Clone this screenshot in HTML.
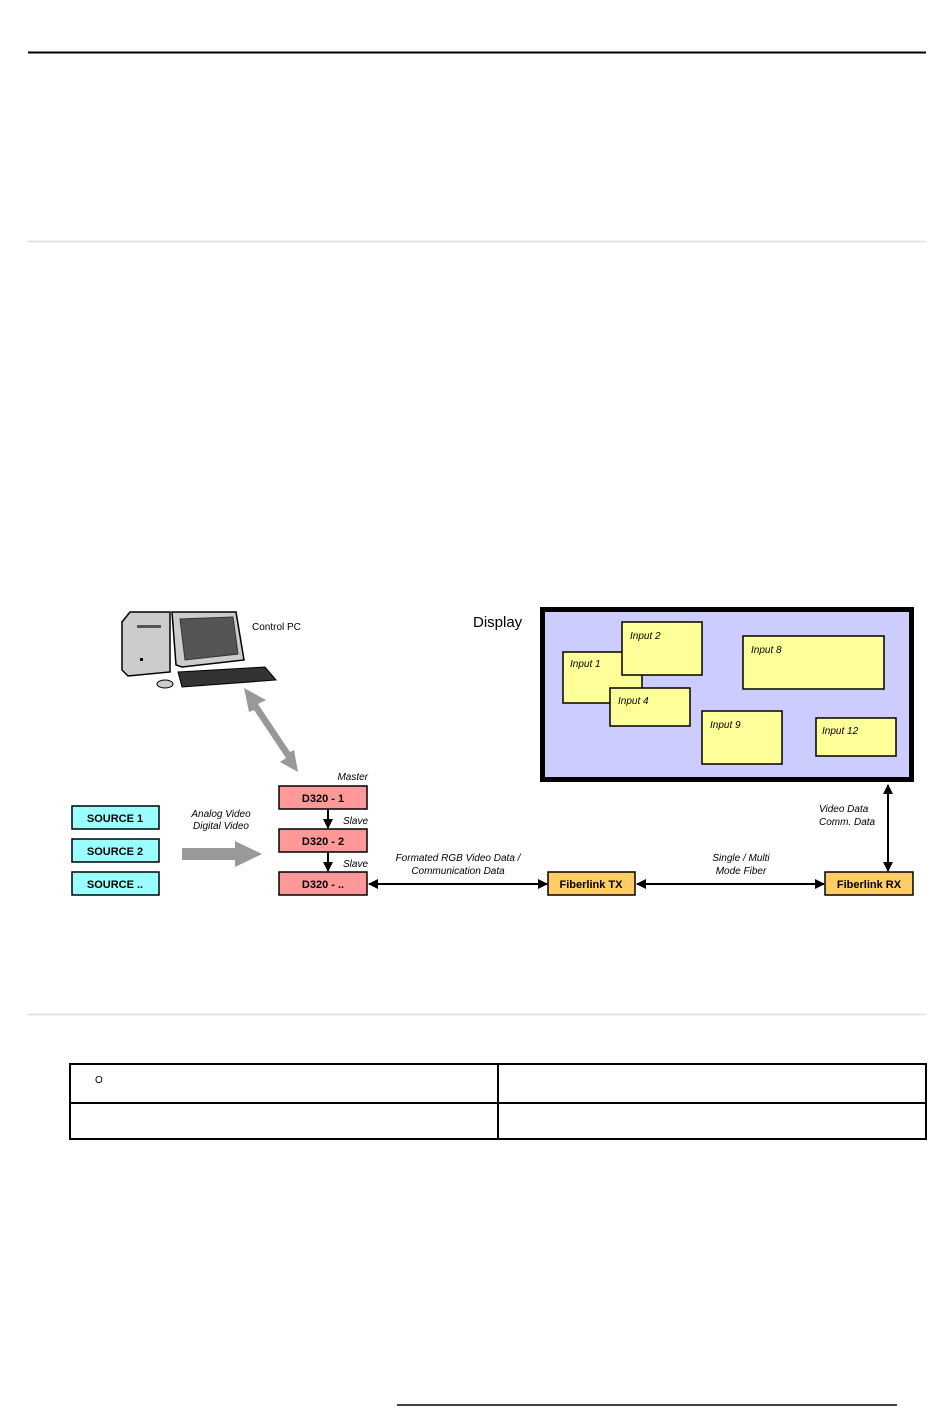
<!DOCTYPE html>
<html><head><meta charset="utf-8"><style>
html,body{margin:0;padding:0;background:#fff}
body{width:950px;height:1409px;position:relative;overflow:hidden;font-family:"Liberation Sans",Arial,sans-serif}
</style></head><body>
<svg width="950" height="1409" viewBox="0 0 950 1409" xmlns="http://www.w3.org/2000/svg" style="position:absolute;left:0;top:0" font-family="Liberation Sans, Arial, sans-serif">
<defs>
<marker id="ah" markerWidth="10" markerHeight="10" refX="9" refY="5" orient="auto-start-reverse" markerUnits="userSpaceOnUse"><path d="M0,0 L10,5 L0,10 z" fill="#000"/></marker>
</defs>
<line x1="28" y1="52.5" x2="926" y2="52.5" stroke="#000" stroke-width="2"/>
<line x1="28" y1="241.5" x2="926" y2="241.5" stroke="#ddd" stroke-width="1.5"/>
<line x1="28" y1="1014.5" x2="926" y2="1014.5" stroke="#ddd" stroke-width="1.5"/>
<!-- table -->
<rect x="70" y="1064" width="856" height="75" fill="none" stroke="#000" stroke-width="2"/>
<line x1="70" y1="1103" x2="926" y2="1103" stroke="#000" stroke-width="2"/>
<line x1="498" y1="1064" x2="498" y2="1139" stroke="#000" stroke-width="2"/>
<text x="95" y="1083" font-size="10">O</text>
<line x1="397" y1="1405" x2="897" y2="1405" stroke="#000" stroke-width="1.5"/>

<!-- computer -->
<path d="M122,622 L130,612 L170,612 L170,672 L128,676 L122,670 z" fill="#ccc" stroke="#000" stroke-width="1.5"/>
<rect x="137" y="625" width="24" height="3" fill="#555"/>
<rect x="140" y="658" width="3" height="3" fill="#000"/>
<path d="M172,612 L236,612 L244,660 L182,667 L176,665 z" fill="#ccc" stroke="#000" stroke-width="1.5"/>
<path d="M180,619 L233,617 L238,654 L185,660 z" fill="#555" stroke="#333"/>
<path d="M178,672 L265,667 L276,680 L182,687 z" fill="#333" stroke="#000"/>
<ellipse cx="165" cy="684" rx="8" ry="4" fill="#ccc" stroke="#000"/>
<text x="252" y="630" font-size="10">Control PC</text>

<!-- gray double arrow -->
<g fill="#999">
<polygon points="244,688 266,700 258,704 290,752 294,750 298,772 280,762 286,758 254,710 249,712"/>
</g>
<!-- gray right arrow -->
<polygon points="182,848 235,848 235,841 262,854 235,867 235,860 182,860" fill="#999"/>
<text x="221" y="817" font-size="10" font-style="italic" text-anchor="middle">Analog Video</text>
<text x="221" y="829" font-size="10" font-style="italic" text-anchor="middle">Digital Video</text>

<!-- sources -->
<g font-size="11" font-weight="bold" text-anchor="middle">
<rect x="72" y="806" width="87" height="23" fill="#99ffff" stroke="#000" stroke-width="1.5"/><text x="115" y="822">SOURCE 1</text>
<rect x="72" y="839" width="87" height="23" fill="#99ffff" stroke="#000" stroke-width="1.5"/><text x="115" y="855">SOURCE 2</text>
<rect x="72" y="872" width="87" height="23" fill="#99ffff" stroke="#000" stroke-width="1.5"/><text x="115" y="888">SOURCE ..</text>
<rect x="279" y="786" width="88" height="23" fill="#ff9999" stroke="#000" stroke-width="1.5"/><text x="323" y="802">D320 - 1</text>
<rect x="279" y="829" width="88" height="23" fill="#ff9999" stroke="#000" stroke-width="1.5"/><text x="323" y="845">D320 - 2</text>
<rect x="279" y="872" width="88" height="23" fill="#ff9999" stroke="#000" stroke-width="1.5"/><text x="323" y="888">D320 - ..</text>
<rect x="548" y="872" width="87" height="23" fill="#ffcc66" stroke="#000" stroke-width="1.5"/><text x="591" y="888">Fiberlink TX</text>
<rect x="825" y="872" width="88" height="23" fill="#ffcc66" stroke="#000" stroke-width="1.5"/><text x="869" y="888">Fiberlink RX</text>
</g>
<g font-size="10" font-style="italic">
<text x="368" y="780" text-anchor="end">Master</text>
<text x="368" y="824" text-anchor="end">Slave</text>
<text x="368" y="867" text-anchor="end">Slave</text>
<text x="458" y="861" text-anchor="middle">Formated RGB Video Data /</text>
<text x="458" y="874" text-anchor="middle">Communication Data</text>
<text x="741" y="861" text-anchor="middle">Single / Multi</text>
<text x="741" y="874" text-anchor="middle">Mode Fiber</text>
<text x="819" y="812">Video Data</text>
<text x="819" y="825">Comm. Data</text>
</g>
<!-- black arrows -->
<g stroke="#000" stroke-width="2">
<line x1="328" y1="809" x2="328" y2="828" marker-end="url(#ah)"/>
<line x1="328" y1="852" x2="328" y2="871" marker-end="url(#ah)"/>
<line x1="369" y1="884" x2="547" y2="884" marker-start="url(#ah)" marker-end="url(#ah)"/>
<line x1="637" y1="884" x2="824" y2="884" marker-start="url(#ah)" marker-end="url(#ah)"/>
<line x1="888" y1="785" x2="888" y2="871" marker-start="url(#ah)" marker-end="url(#ah)"/>
</g>

<!-- display -->
<text x="473" y="627" font-size="15">Display</text>
<rect x="542.5" y="609.5" width="369" height="170" fill="#ccccff" stroke="#000" stroke-width="5"/>
<g fill="#ffff99" stroke="#000" stroke-width="1.5">
<rect x="563" y="652" width="79" height="51"/>
<rect x="622" y="622" width="80" height="53"/>
<rect x="610" y="688" width="80" height="38"/>
<rect x="743" y="636" width="141" height="53"/>
<rect x="702" y="711" width="80" height="53"/>
<rect x="816" y="718" width="80" height="38"/>
</g>
<g font-size="10" font-style="italic">
<text x="570" y="667">Input 1</text>
<text x="630" y="639">Input 2</text>
<text x="618" y="704">Input 4</text>
<text x="751" y="653">Input 8</text>
<text x="710" y="728">Input 9</text>
<text x="822" y="734">Input 12</text>
</g>
</svg>
</body></html>
